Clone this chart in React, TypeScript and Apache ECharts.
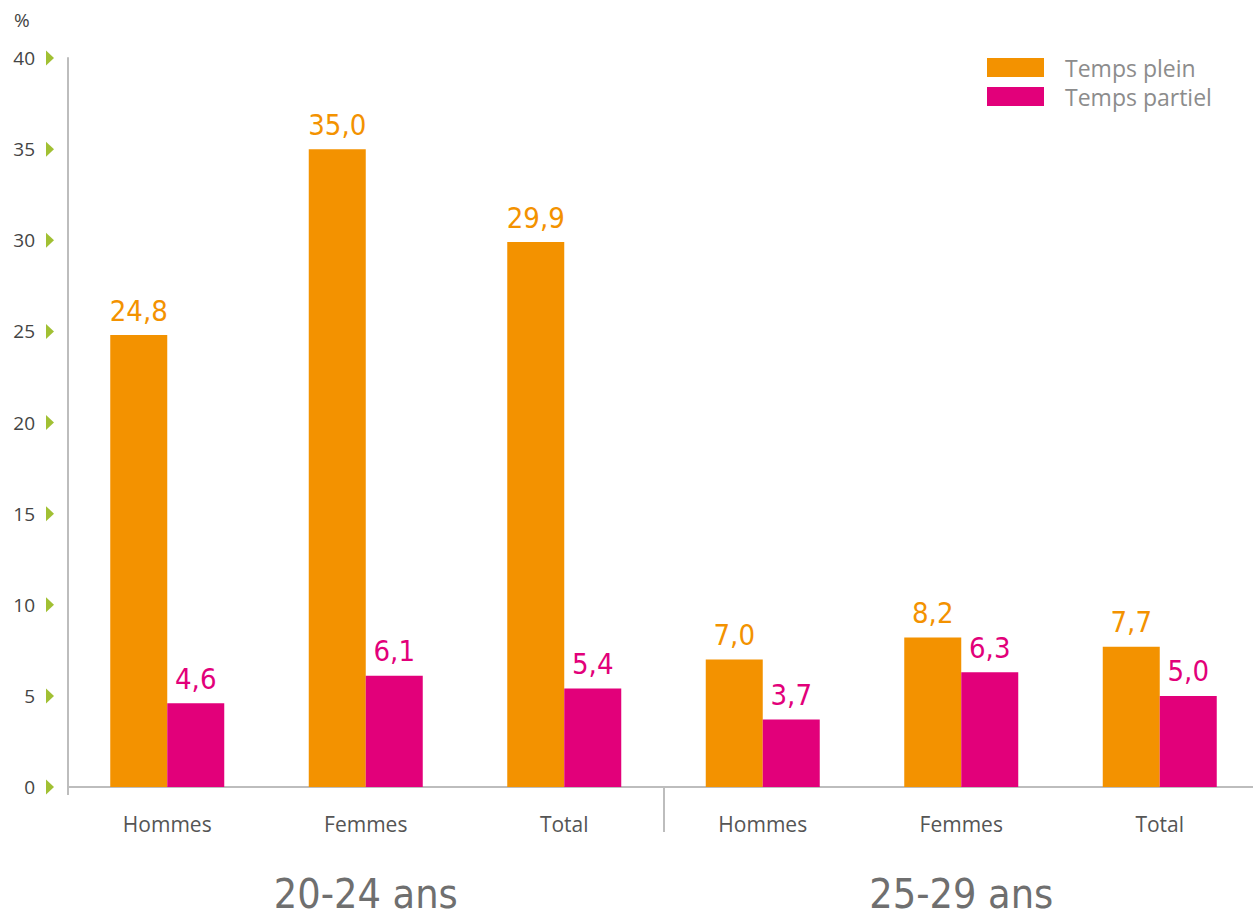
import React, { useEffect, useRef } from "react";
import * as echarts from "echarts";

const categories = ["Hommes", "Femmes", "Total", "Hommes", "Femmes", "Total"];
const groups = ["20-24 ans", "25-29 ans"];
const tempsPlein = [24.8, 35.0, 29.9, 7.0, 8.2, 7.7];
const tempsPartiel = [4.6, 6.1, 5.4, 3.7, 6.3, 5.0];
const yTicks = [0, 5, 10, 15, 20, 25, 30, 35, 40];

const ORANGE = "#F39200";
const PINK = "#E2007A";
const GREEN = "#8AB000";
const AXIS = "#BDBDBD";

const fmt = (v: number) => v.toFixed(1).replace(".", ",");

export default function App() {
  const ref = useRef<HTMLDivElement>(null);
  useEffect(() => {
    if (!ref.current) return;
    const chart = echarts.init(ref.current, null, { renderer: "svg" });
    const valueLabel = (color: string) => ({
      show: true,
      position: "top",
      distance: 10,
      color,
      fontSize: 29,
      fontFamily: "DejaVu Sans Condensed",
      formatter: (p: any) => fmt(p.value),
    });
    const hiddenValueAxis = (customTicks: number[], length: number) => ({
      type: "value",
      min: 0,
      max: categories.length,
      position: "bottom",
      axisLine: { show: false },
      splitLine: { show: false },
      axisLabel: { show: false },
      axisTick: {
        show: true,
        customValues: customTicks,
        length,
        lineStyle: { color: AXIS, width: 2 },
      },
    });
    chart.setOption({
      animation: false,
      backgroundColor: "#ffffff",
      grid: {
        left: 68,
        width: 1191,
        top: 58,
        bottom: 133,
        containLabel: false,
        outerBoundsMode: "none",
      },
      legend: {
        orient: "vertical",
        left: 982,
        top: 51,
        itemWidth: 57,
        itemHeight: 19,
        itemGap: 6,
        icon: "rect",
        textStyle: {
          color: "#8C8C8C",
          fontSize: 23,
          fontFamily: "Open Sans",
          padding: [0, 0, 0, 16],
        },
        data: ["Temps plein", "Temps partiel"],
      },
      graphic: [
        {
          type: "text",
          left: 14,
          top: 10,
          style: { text: "%", fontSize: 19, fill: "#444", fontFamily: "Open Sans" },
        },
      ],
      xAxis: [
        {
          type: "category",
          data: categories,
          axisLine: { show: true, lineStyle: { color: AXIS, width: 2 } },
          axisTick: { show: false },
          axisLabel: {
            color: "#555",
            fontSize: 21,
            fontFamily: "Open Sans",
            margin: 26,
          },
        },
        {
          type: "category",
          data: groups,
          position: "bottom",
          axisLine: { show: false },
          axisTick: { show: false },
          axisLabel: {
            color: "#6F6F6F",
            fontSize: 41,
            fontFamily: "DejaVu Sans Condensed",
            margin: 86,
          },
        },
        hiddenValueAxis([3], 45),
        hiddenValueAxis([0], 8),
      ],
      yAxis: {
        type: "value",
        min: 0,
        max: 40,
        interval: 5,
        axisLine: { show: true, lineStyle: { color: AXIS, width: 2 } },
        axisTick: { show: false },
        splitLine: { show: false },
        axisLabel: {
          margin: 33,
          color: "#444",
          fontSize: 19,
          fontFamily: "Open Sans",
        },
      },
      series: [
        {
          name: "Temps plein",
          type: "bar",
          data: tempsPlein,
          barWidth: 57,
          barGap: "0%",
          itemStyle: { color: ORANGE },
          label: valueLabel(ORANGE),
        },
        {
          name: "Temps partiel",
          type: "bar",
          data: tempsPartiel,
          barWidth: 57,
          barGap: "0%",
          itemStyle: { color: PINK },
          label: valueLabel(PINK),
        },
        {
          name: "ticks",
          type: "scatter",
          xAxisIndex: 3,
          data: yTicks.map((v) => [0, v]),
          symbol: "path://M0,0L8,7.5L0,15Z",
          symbolSize: [8, 15],
          symbolOffset: [-18, 0],
          itemStyle: { color: GREEN },
          clip: false,
          silent: true,
          z: 5,
        },
      ],
    });
    return () => chart.dispose();
  }, []);
  return (
    <div
      ref={ref}
      style={{ position: "fixed", left: 0, top: 0, width: 1253, height: 920 }}
    />
  );
}
